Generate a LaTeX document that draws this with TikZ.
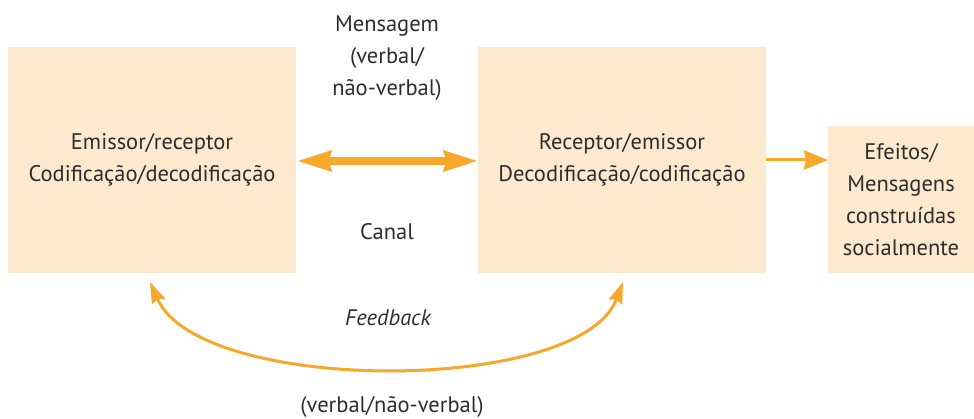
\documentclass[tikz,border=0pt]{standalone}
\usepackage{fontspec}
\setmainfont{PT Sans}
\usetikzlibrary{arrows.meta}
\definecolor{boxfill}{RGB}{253,233,206}
\definecolor{arrowc}{RGB}{247,168,43}
\definecolor{txt}{RGB}{45,45,45}
\tikzset{
  box/.style={fill=boxfill, draw=none, inner sep=0pt, align=center, text=txt,
    font=\fontsize{22.5}{32}\selectfont},
  lbl/.style={inner sep=0pt, align=center, text=txt, font=\fontsize{22.5}{32}\selectfont},
  bigarrow/.style={draw=arrowc, line width=7.5pt,
    {Stealth[length=34pt,width=20pt,inset=3pt]}-{Stealth[length=34pt,width=20pt,inset=3pt]}},
  thinarrow/.style={draw=arrowc, line width=3pt, -{Stealth[length=24pt,width=19pt,inset=2pt]}},
  fbarrow/.style={draw=arrowc, line width=3pt,
    {Stealth[length=21pt,width=14pt,inset=2pt]}-{Stealth[length=21pt,width=14pt,inset=2pt]}}
}
\begin{document}
\begin{tikzpicture}[x=1pt,y=-1pt]
\useasboundingbox (0,0) rectangle (974,419);
\node[box, minimum width=288pt, minimum height=226pt] (em) at (152,160)
  {Emissor/receptor\\Codificação/decodificação};
\node[box, minimum width=288pt, minimum height=226pt] (re) at (622,160)
  {Receptor/emissor\\Decodificação/codificação};
\node[box, minimum width=146pt, minimum height=147pt] (ef) at (901,199.5)
  {Efeitos/\\Mensagens\\construídas\\socialmente};
\node[lbl] (msg) at (387,58) {Mensagem\\(verbal/\\não-verbal)};
\node[lbl] (canal) at (387,232) {Canal};
\node[lbl, font=\fontsize{22.5}{32}\selectfont\itshape] (fb) at (388,318) {Feedback};
\node[lbl] (vnv) at (392,407) {(verbal/não-verbal)};
\coordinate (a1) at (297,161);
\coordinate (a2) at (478,161);
\draw[bigarrow] (a1) -- (a2);
\coordinate (b1) at (766,160);
\coordinate (b2) at (828,160);
\draw[thinarrow] (b1) -- (b2);
\coordinate (f1) at (150,282);
\coordinate (f2) at (623,282);
\draw[fbarrow] (f1) .. controls (200,395) and (580,395) .. (f2);
\end{tikzpicture}
\end{document}
